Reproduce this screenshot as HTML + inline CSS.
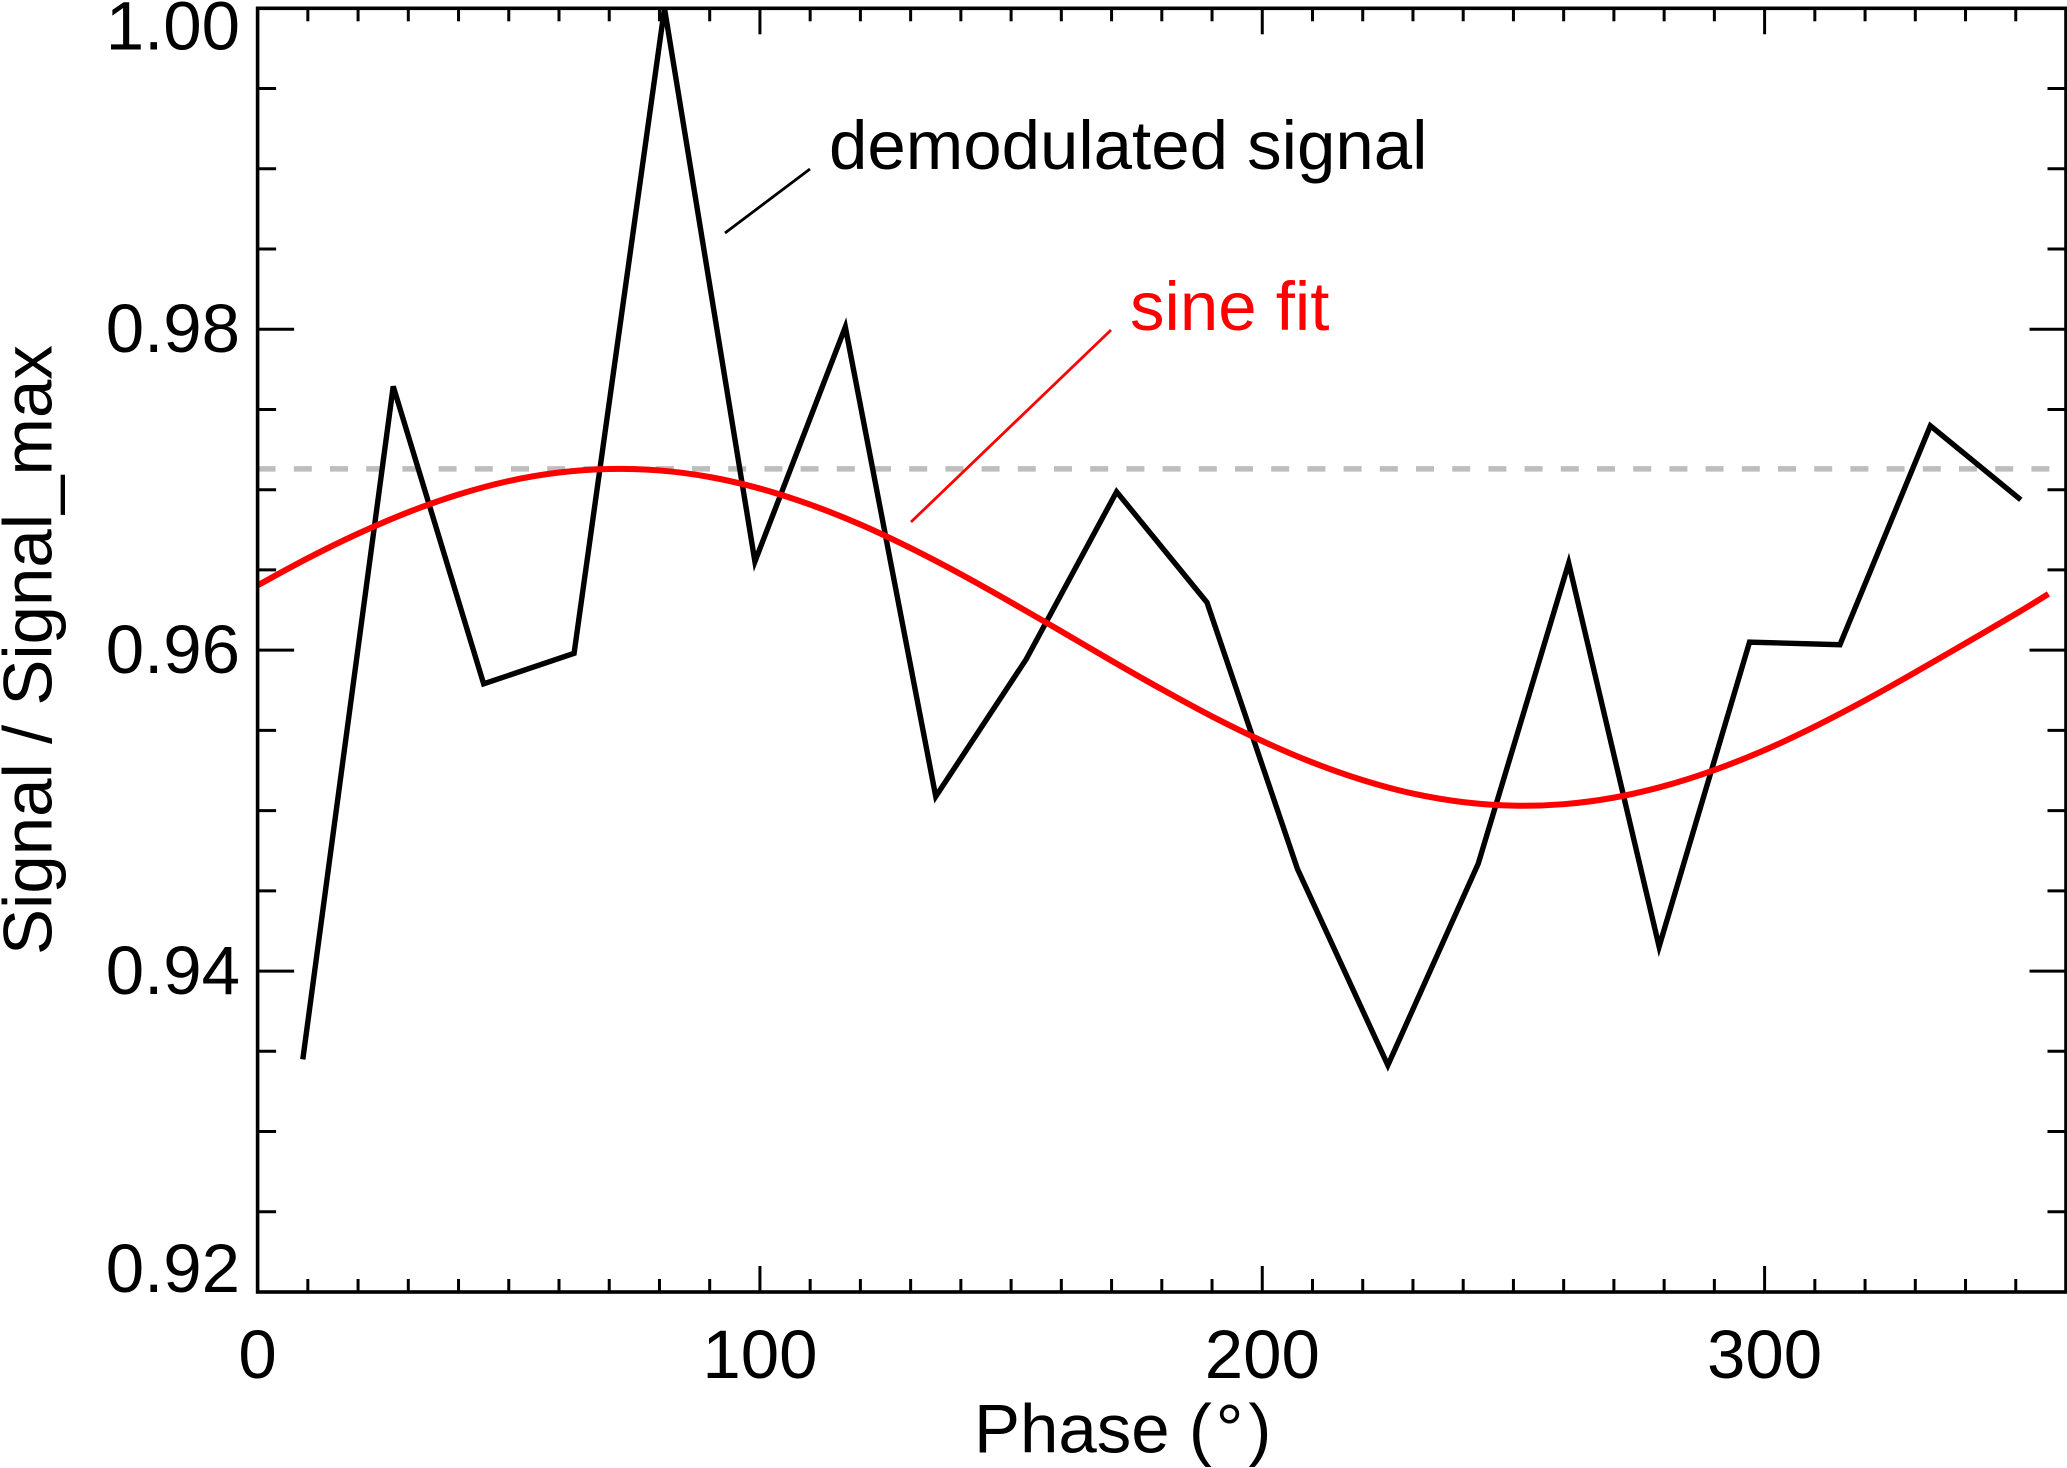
<!DOCTYPE html>
<html lang="en">
<head>
<meta charset="utf-8">
<title>Signal vs Phase</title>
<style>
html,body{margin:0;padding:0;background:#fff;width:2067px;height:1468px;overflow:hidden}
svg{display:block}
text{font-family:"Liberation Sans",Arial,sans-serif;font-size:69px;fill:#000}
</style>
</head>
<body>
<svg id="chart" xmlns="http://www.w3.org/2000/svg" width="2067" height="1468" viewBox="0 0 2067 1468">
<defs><clipPath id="plot-clip"><rect x="257.6" y="8.3" width="1808.4" height="1283.7"></rect></clipPath></defs>
<g id="grid-layer"></g>
<g id="series-layer" clip-path="url(#plot-clip)"></g>
<g id="axis-layer"></g>
<text x="974" y="1452.7">Phase (<tspan dx="4">°</tspan><tspan dx="5">)</tspan></text>
<text transform="translate(51.7,955) rotate(-90)">Signal / Signal_max</text>
<text x="829" y="169">demodulated signal</text>
<line x1="725" y1="233" x2="810" y2="169" stroke="#000" stroke-width="2.8"></line>
<text x="1130" y="330" style="fill:#f00">sine fit</text>
<line x1="911" y1="522" x2="1111" y2="330" stroke="#f00" stroke-width="2.8"></line>
</svg>
<script>
const signalPhase = [9,27,45,63,81,99,117,135,153,171,189,207,225,243,261,279,297,315,333,351];
const signalValues = [0.9345,0.97644,0.9579,0.9598,1.0000,0.96552,0.98014,0.95088,0.95943,0.96987,0.96297,0.94637,0.93413,0.9467,0.96543,0.94152,0.9605,0.96034,0.97398,0.96937];
const fitPhase = [0,10,20,30,40,50,60,70,80,90,100,110,120,130,140,150,160,170,180,190,200,210,220,230,240,250,260,270,280,290,300,310,320,330,340,350,356.5];
const fitValues = [0.96404,0.96573,0.96726,0.9686,0.9697,0.97054,0.97107,0.97129,0.9712,0.97079,0.97007,0.96907,0.96783,0.96636,0.96473,0.96298,0.96117,0.95934,0.95756,0.95587,0.95434,0.953,0.9519,0.95106,0.95053,0.95031,0.9504,0.95081,0.95153,0.95253,0.95377,0.95524,0.95687,0.95862,0.96043,0.96226,0.9635];
const referenceValue = [0.9713];
const xDomain = [0,360];
const yDomain = [0.92,1.00];
const xMajorTicks = [0,100,200,300];
const xTickLabels = ['0','100','200','300'];
const yMajorTicks = [1.00,0.98,0.96,0.94,0.92];
const yTickLabels = ['1.00','0.98','0.96','0.94','0.92'];
const xMinorStep = [10];
const yMinorStep = [0.005];

const NS = 'http://www.w3.org/2000/svg';
const left = 257.6, right = 2066, top_ = 8.3, bottom = 1292;
function xScale(v){ return left + (v - xDomain[0]) / (xDomain[1] - xDomain[0]) * (right - left); }
function yScale(v){ return bottom - (v - yDomain[0]) / (yDomain[1] - yDomain[0]) * (bottom - top_); }
function mk(tag, attrs){
  const e = document.createElementNS(NS, tag);
  for (const k in attrs) e.setAttribute(k, attrs[k]);
  return e;
}
const axisLayer = document.getElementById('axis-layer');
const seriesLayer = document.getElementById('series-layer');
const gridLayer = document.getElementById('grid-layer');

const frame = mk('rect', {x:left, y:top_, width:right-left, height:bottom-top_, fill:'none', stroke:'#000', 'stroke-width':3.6});


axisLayer.appendChild(frame);

function tick(x1, y1, x2, y2, w, name){
  const t = mk('line', {x1:x1, y1:y1, x2:x2, y2:y2, stroke:'#000', 'stroke-width':w});
  
  
  axisLayer.appendChild(t);
}
const xMinorCount = Math.round((xDomain[1]-xDomain[0]) / xMinorStep[0]);
for (let i = 1; i < xMinorCount; i++){
  const v = xDomain[0] + i * xMinorStep[0];
  const major = xMajorTicks.includes(v);
  const len = major ? 26 : 13;
  const px = xScale(v);
  tick(px, bottom, px, bottom - len, 3, 'x-tick');
  tick(px, top_, px, top_ + len, 3, 'x-tick-top');
}
const yMinorCount = Math.round((yDomain[1]-yDomain[0]) / yMinorStep[0]);
for (let i = 1; i < yMinorCount; i++){
  const v = yDomain[0] + i * yMinorStep[0];
  const major = i % 4 === 0;
  const len = major ? 36.5 : 18.5;
  const py = yScale(v);
  tick(left, py, left + len, py, 3, 'y-tick');
  tick(right, py, right - len, py, 3, 'y-tick-right');
}
xMajorTicks.forEach(function(v, i){
  const t = mk('text', {x:xScale(v), y:1378, 'text-anchor':'middle'});
  t.textContent = xTickLabels[i];
  
  
  axisLayer.appendChild(t);
});
yMajorTicks.forEach(function(v, i){
  const edge = i === 0 ? 41 : (i === yMajorTicks.length - 1 ? 0 : 23);
  const t = mk('text', {x:240, y:yScale(v) + edge, 'text-anchor':'end'});
  t.textContent = yTickLabels[i];
  
  
  axisLayer.appendChild(t);
});

const refLine = mk('line', {x1:left, y1:yScale(referenceValue[0]), x2:2052, y2:yScale(referenceValue[0]), stroke:'#bdbdbd', 'stroke-width':5.5, 'stroke-dasharray':'18 18.2'});


gridLayer.appendChild(refLine);

const signalPts = signalPhase.map(function(p, i){ return xScale(p).toFixed(2) + ',' + yScale(signalValues[i]).toFixed(2); }).join(' ');
const signalLine = mk('polyline', {points:signalPts, fill:'none', stroke:'#000', 'stroke-width':5.4, 'stroke-linejoin':'miter', 'stroke-miterlimit':4});


seriesLayer.appendChild(signalLine);

const fitPts = fitPhase.map(function(p, i){ return [xScale(p), yScale(fitValues[i])]; });
let d = 'M' + fitPts[0][0].toFixed(2) + ' ' + fitPts[0][1].toFixed(2);
for (let i = 0; i < fitPts.length - 1; i++){
  const p0 = fitPts[Math.max(i-1,0)], p1 = fitPts[i], p2 = fitPts[i+1], p3 = fitPts[Math.min(i+2,fitPts.length-1)];
  d += ' C' + (p1[0]+(p2[0]-p0[0])/6).toFixed(2) + ' ' + (p1[1]+(p2[1]-p0[1])/6).toFixed(2) + ' ' +
       (p2[0]-(p3[0]-p1[0])/6).toFixed(2) + ' ' + (p2[1]-(p3[1]-p1[1])/6).toFixed(2) + ' ' +
       p2[0].toFixed(2) + ' ' + p2[1].toFixed(2);
}
const fitLine = mk('path', {d:d, fill:'none', stroke:'#f00', 'stroke-width':6});


seriesLayer.appendChild(fitLine);
</script>
</body>
</html>
